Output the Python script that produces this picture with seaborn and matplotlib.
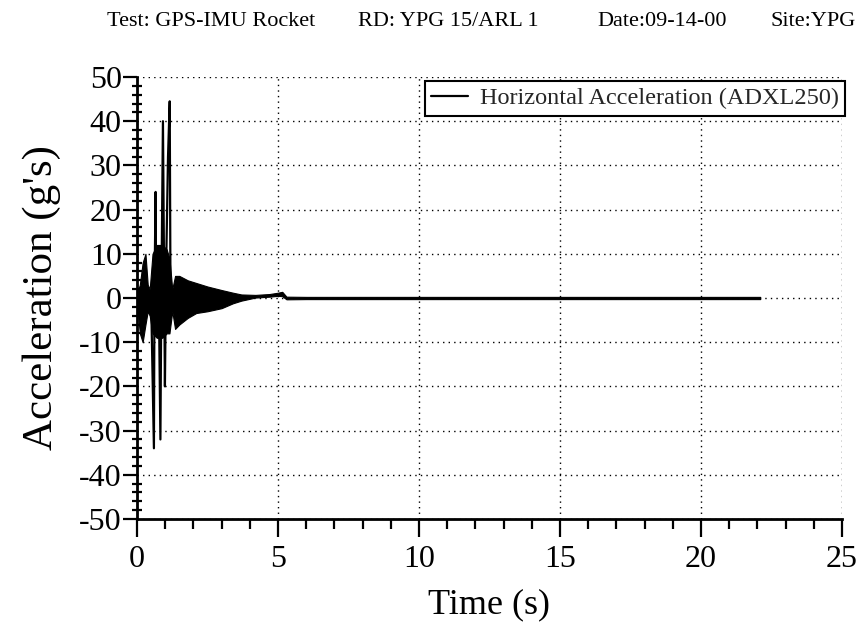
import matplotlib
matplotlib.use("Agg")
import matplotlib.pyplot as plt
import seaborn as sns
import pandas as pd
from matplotlib.ticker import MultipleLocator

# ---- data ----
# envelope of the dense vibration trace (time s, upper g, lower g)
env_t  = [0.00, 0.10, 0.20, 0.30, 0.38, 0.45, 0.55, 0.70, 0.90, 1.05, 1.15, 1.25,
          1.35, 1.50, 1.80, 2.10, 2.50, 3.00, 3.40, 3.70, 4.20, 4.70, 5.00, 5.15,
          5.30, 6.00, 10.0, 15.0, 20.0, 22.1]
env_hi = [1.0, 3.0, 8.0, 10.0, 3.0, 2.0, 10.0, 12.0, 12.0, 11.0, 9.0, 2.0,
          5.0, 5.0, 4.0, 3.4, 2.6, 1.8, 1.2, 0.8, 0.7, 0.9, 1.2, 1.4,
          0.3, 0.25, 0.25, 0.25, 0.25, 0.25]
env_lo = [-1.0, -8.0, -10.0, -6.0, -3.0, -4.0, -8.0, -9.0, -9.0, -8.0, -8.0, -3.0,
          -7.0, -6.0, -4.5, -3.4, -3.0, -2.3, -1.2, -0.6, 0.1, 0.3, 0.5, 0.4,
          -0.3, -0.25, -0.25, -0.25, -0.25, -0.25]

# large individual spikes (time s, acceleration g)
spike_t = [0.50, 0.60, 0.62, 0.66, 0.68, 0.76, 0.83, 0.86, 0.92, 0.99, 1.03,
           1.10, 1.16, 1.19, 1.25]
spike_v = [0.0, -34.0, 2.0, 24.0, -6.0, 8.0, -32.0, -2.0, 40.0, -20.0, 6.0,
           32.0, 44.5, -3.0, 2.0]

series_label = "Horizontal Acceleration (ADXL250)"
header_parts = ["Test: GPS-IMU Rocket", "RD: YPG 15/ARL 1", "Date:09-14-00", "Site:YPG"]
x_label = "Time (s)"
y_label = "Acceleration (g's)"

# ---- styling ----
sns.set_style("ticks")
plt.rcParams["font.family"] = ["Liberation Serif", "DejaVu Serif"]
plt.rcParams["axes.unicode_minus"] = False

fig = plt.figure(figsize=(8.62, 6.24), dpi=100)
ax = fig.add_axes([137/862, 1 - 519/624, (842-137)/862, (519-77)/624])

spikes = pd.DataFrame({"t": spike_t, "v": spike_v})
ax.fill_between(env_t, env_lo, env_hi, color="black", linewidth=0.8, edgecolor="black")
sns.lineplot(data=spikes, x="t", y="v", ax=ax, color="black", linewidth=1.6,
             label=series_label, sort=False, estimator=None)

ax.set_xlim(0, 25)
ax.set_ylim(-50, 50)
ax.xaxis.set_major_locator(MultipleLocator(5))
ax.xaxis.set_minor_locator(MultipleLocator(1))
ax.yaxis.set_major_locator(MultipleLocator(10))
ax.yaxis.set_minor_locator(MultipleLocator(2))

ax.grid(True, which="major", color="black", linestyle=(0, (1, 3)), linewidth=1.0)
for s in ["top", "right"]:
    ax.spines[s].set_visible(False)
for s in ["left", "bottom"]:
    ax.spines[s].set_color("black")
    ax.spines[s].set_linewidth(2.0)

ax.tick_params(axis="x", which="major", direction="out", length=13, width=1.6,
               labelsize=23, pad=6, colors="black", bottom=True)
ax.tick_params(axis="x", which="minor", direction="out", length=7, width=1.6,
               colors="black", bottom=True)
ax.tick_params(axis="y", which="major", direction="out", length=10, width=1.6,
               labelsize=23, pad=1, colors="black", left=True)
ax.tick_params(axis="y", which="minor", direction="inout", length=7, width=1.6,
               colors="black", left=True)
ax.set_axisbelow(True)

ax.set_xlabel(x_label, fontsize=26, color="black", labelpad=10)
ax.set_ylabel(y_label, fontsize=31, color="black", labelpad=13)

leg = ax.legend(loc="upper right", bbox_to_anchor=(1.004, 0.99), fontsize=17.5,
                frameon=True, fancybox=False, handlelength=1.5, borderaxespad=0.0,
                borderpad=0.25, handletextpad=0.5)
leg.get_frame().set_edgecolor("black")
leg.get_frame().set_linewidth(1.5)
leg.get_frame().set_alpha(1.0)

header_cx = [211, 448, 662, 813]
for txt, xp in zip(header_parts, header_cx):
    fig.text(xp/862, 1 - 22/624, txt, fontsize=16, ha="center", va="center", color="black")

fig.savefig("out.png", dpi=100)
